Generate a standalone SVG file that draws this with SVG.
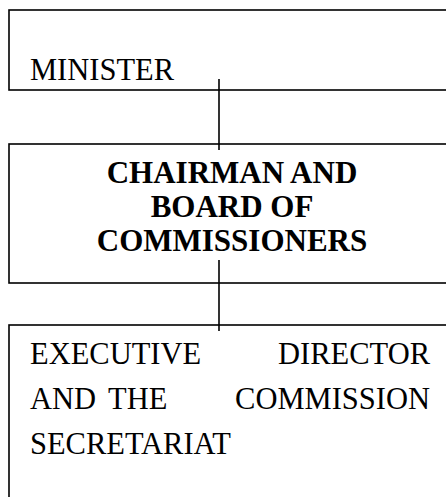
<svg xmlns="http://www.w3.org/2000/svg" width="446" height="497" viewBox="0 0 446 497">
<style>
.box{fill:#fff;stroke:#000;stroke-width:1.6}
.t{font-family:"Liberation Serif","Times New Roman",serif;font-size:30.5px;fill:#000}
.b{font-weight:bold;text-anchor:middle;font-size:31px}
.conn line{stroke:#000;stroke-width:1.6}
</style>
<rect width="446" height="497" fill="#fff"/>
<g id="minister">
<rect class="box" x="9" y="10" width="460" height="80"/>
<text class="t" x="30" y="80">MINISTER</text>
</g>
<g id="board">
<rect class="box" x="9" y="144" width="460" height="139"/>
<text class="t b" x="232" y="183">CHAIRMAN AND</text>
<text class="t b" x="232" y="217">BOARD OF</text>
<text class="t b" x="232" y="251">COMMISSIONERS</text>
</g>
<g id="executive">
<rect class="box" x="9" y="325" width="460" height="200"/>
<text class="t" x="30" y="364">EXECUTIVE</text>
<text class="t" x="430" y="364" text-anchor="end">DIRECTOR</text>
<text class="t" x="30" y="409">AND</text>
<text class="t" x="108" y="409">THE</text>
<text class="t" x="430" y="409" text-anchor="end">COMMISSION</text>
<text class="t" x="30" y="454">SECRETARIAT</text>
</g>
<g id="connectors" class="conn">
<line x1="219" y1="79" x2="219" y2="150"/>
<line x1="219" y1="260" x2="219" y2="331"/>
</g>
</svg>
